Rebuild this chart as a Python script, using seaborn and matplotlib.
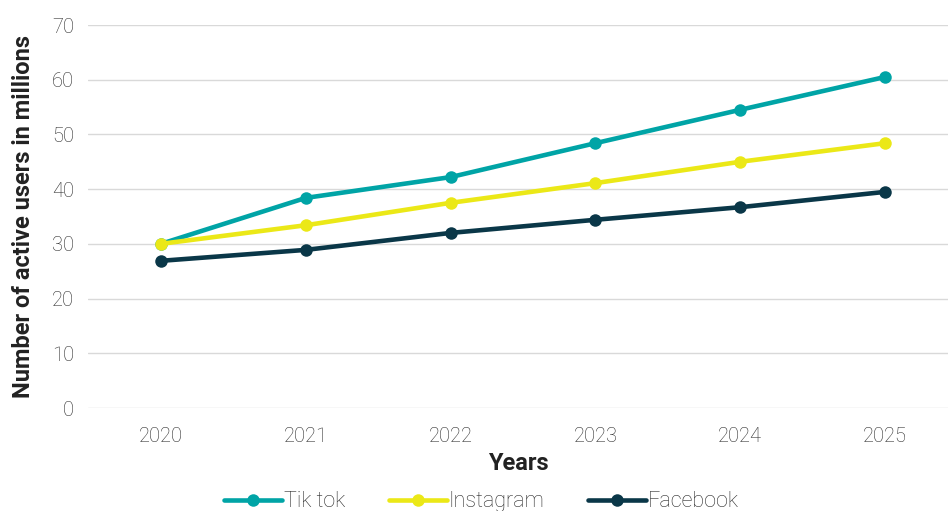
import matplotlib
matplotlib.use("Agg")
import matplotlib.pyplot as plt
import seaborn as sns
import pandas as pd

years = ["2020", "2021", "2022", "2023", "2024", "2025"]
tiktok = [30.0, 38.4, 42.2, 48.4, 54.5, 60.5]
instagram = [30.0, 33.4, 37.5, 41.1, 45.0, 48.4]
facebook = [26.9, 28.9, 32.0, 34.4, 36.7, 39.5]
series_names = ["Tik tok", "Instagram", "Facebook"]
colors = ["#00A4A6", "#EBE817", "#0A3748"]

df = pd.DataFrame({"Years": years, "Tik tok": tiktok,
                   "Instagram": instagram, "Facebook": facebook})
long = df.melt(id_vars="Years", var_name="Platform", value_name="Users")
long["pos"] = long["Years"].map({y: i for i, y in enumerate(years)})

sns.set_theme(style="white")
plt.rcParams["font.family"] = ["Roboto", "DejaVu Sans"]

fig = plt.figure(figsize=(9.48, 5.11), dpi=100)
ax = fig.add_axes([88 / 948, 1 - 408 / 511, 860 / 948, 383 / 511])

sns.lineplot(data=long, x="pos", y="Users", hue="Platform",
             hue_order=series_names, palette=colors, marker="o",
             markersize=9, markeredgewidth=0, linewidth=3.3, ax=ax,
             legend=False)

ax.set_xlim(-0.504, 5.435)
ax.set_ylim(0, 70)
ax.set_yticks(range(0, 71, 10))
ax.set_xticks(range(len(years)))
ax.set_xticklabels(years)
ax.yaxis.grid(True, color="#d9d9d9", linewidth=1)
ax.set_axisbelow(True)
for s in ax.spines.values():
    s.set_visible(False)
ax.tick_params(axis="both", length=0, labelsize=14.5, colors="#2a2a2a")
ax.tick_params(axis="x", pad=14)
ax.tick_params(axis="y", pad=10)
for lab in ax.get_xticklabels() + ax.get_yticklabels():
    lab.set_fontweight("light")

ax.set_xlabel("Years", fontsize=17, fontweight="bold", color="#222222", labelpad=4)
ax.set_ylabel("Number of active users in millions", fontsize=17,
              fontweight="bold", color="#222222", labelpad=12)

# legend at the bottom, lines with markers
handles = [plt.Line2D([], [], color=c, linewidth=3.3, marker="o",
                      markersize=9, markeredgewidth=0) for c in colors]
fig.legend(handles, series_names, loc="center", bbox_to_anchor=(0.508, 0.018),
           ncol=3, frameon=False, handlelength=2.7,
           handletextpad=0.1, columnspacing=2.0, labelcolor="#2a2a2a",
           prop={"weight": "light", "size": 15.5})

fig.savefig("out.png", dpi=100)
